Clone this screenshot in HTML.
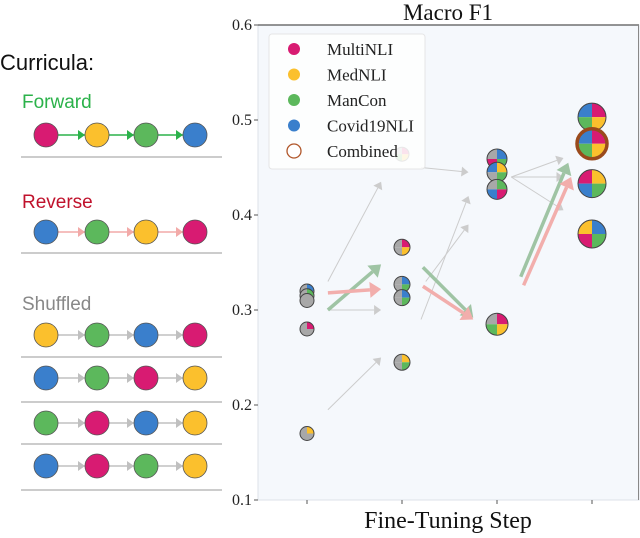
<!DOCTYPE html>
<html><head><meta charset="utf-8"><style>
body{margin:0;background:#fff;width:640px;height:533px;overflow:hidden}
svg text{font-family:"Liberation Serif",serif}
.sans{font-family:"Liberation Sans",sans-serif}
</style></head><body>
<svg id="fig" width="640" height="533" xmlns="http://www.w3.org/2000/svg">
<g id="left">
<text class="sans" x="0" y="70" font-size="22" fill="#111">Curricula:</text>
<text class="sans" x="22" y="108" font-size="19" fill="#2bb24a">Forward</text>
<text class="sans" x="22" y="208" font-size="19" fill="#c0122c">Reverse</text>
<text class="sans" x="22" y="310" font-size="19" fill="#888">Shuffled</text>
</g>
<g id="plot"></g>
</svg>
<script>
const NS="http://www.w3.org/2000/svg";
const COL={M:"#d81b72",Y:"#fbc02d",G:"#5cb85c",B:"#3a7fcc",X:"#a8a8a8"};
// curricula rows
const rowOrders=[["M","Y","G","B"],["B","G","Y","M"],["Y","G","B","M"],["B","G","M","Y"],["G","M","B","Y"],["B","M","G","Y"]];
const rowY=[135,232,335,378,423,466];
const lineY=[157,253,357,402,444,490];
const rowArrow=["#2bb24a","#f2aaa8","#c0c0c0","#c0c0c0","#c0c0c0","#c0c0c0"];
// chart data
const yTicks=[0.1,0.2,0.3,0.4,0.5,0.6];
const pieSteps=[1,1,1,1,1,2,2,2,2,2,3,3,3,3,4,4,4,4];
const pieVals=[0.32,0.315,0.31,0.28,0.17,0.464,0.366,0.327,0.313,0.245,0.459,0.445,0.427,0.285,0.503,0.475,0.433,0.38];
const pieQuads=["XBXX","XGXX","XXXX","XMXX","XYXX","XMYG","XMYX","XBGX","XBGX","XYGX","XBGM","BYGX","XGMB","XMYG","BMYG","BMYG","MYGB","YBGM"];
const pieR=[7,7,7,7,7,7,8,8,8,8,10,10,10,11,14,14,14,14];
const combinedIndex=15;
// arrows: [fromStep, fromVal, toStep, toVal]
const grayArrows=[[1.22,0.33,1.78,0.435],[1.22,0.30,1.78,0.30],[1.22,0.195,1.78,0.25],[2.2,0.29,2.7,0.42],[2.25,0.33,2.7,0.39],[2.2,0.45,2.7,0.445],[3.15,0.44,3.7,0.46],[3.15,0.44,3.7,0.44],[3.15,0.44,3.7,0.405]];
const greenArrows=[[1.22,0.30,1.78,0.348],[2.22,0.345,2.75,0.292],[3.25,0.335,3.75,0.455]];
const pinkArrows=[[1.22,0.318,1.78,0.322],[2.22,0.325,2.75,0.29],[3.28,0.326,3.78,0.44]];

const X0=258,X1=639,Y0=25,Y1=500;
const xs=s=>307+(s-1)*95;
const ys=v=>Y1-(v-0.1)/0.5*(Y1-Y0);
const fig=document.getElementById('fig');
const plot=document.getElementById('plot');
function mk(tag,attrs,parent){const e=document.createElementNS(NS,tag);for(const k in attrs)e.setAttribute(k,attrs[k]);(parent||fig).appendChild(e);return e;}

rowOrders.forEach((ord,ri)=>{
  const g=mk('g',{});
  
  
  const cx=[46,97,146,195];
  for(let i=0;i<3;i++){
    mk('line',{x1:cx[i]+12,y1:rowY[ri],x2:cx[i+1]-12,y2:rowY[ri],stroke:rowArrow[ri],'stroke-width':1.5},g);
    mk('path',{d:`M${cx[i+1]-19},${rowY[ri]-5}L${cx[i+1]-12},${rowY[ri]}L${cx[i+1]-19},${rowY[ri]+5}z`,fill:rowArrow[ri]},g);
  }
  ord.forEach((c,i)=>{
    const cc=mk('circle',{cx:cx[i],cy:rowY[ri],r:12,fill:COL[c],stroke:'#555','stroke-width':0.8},g);
    
    
  });
  const ln=mk('line',{x1:21,y1:lineY[ri],x2:222,y2:lineY[ri],stroke:'#bbb','stroke-width':1.5},g);
  
  
});

const bg=mk('rect',{x:X0,y:Y0,width:X1-X0,height:Y1-Y0,fill:'#f5f8fc',stroke:'#dde2e8'},plot);


mk('line',{x1:X0,y1:Y0,x2:X1,y2:Y0,stroke:'#555','stroke-width':1.2},plot);
mk('line',{x1:X1-0.5,y1:Y0,x2:X1-0.5,y2:Y1,stroke:'#888','stroke-width':1},plot);
yTicks.forEach(v=>{
  mk('line',{x1:X0-4,y1:ys(v),x2:X0,y2:ys(v),stroke:'#555'},plot);
  const t=mk('text',{x:X0-6,y:ys(v)+5,'font-size':16,'text-anchor':'end',fill:'#222'},plot);
  t.textContent=v.toFixed(1);
  
  
});
[1,2,3,4].forEach(s=>mk('line',{x1:xs(s),y1:Y1,x2:xs(s),y2:Y1+4,stroke:'#555'},plot));
const title=mk('text',{x:448,y:20,'font-size':23,'text-anchor':'middle',fill:'#111'},plot);
title.textContent='Macro F1';


const xt=mk('text',{x:448,y:528,'font-size':24,'text-anchor':'middle',fill:'#111'},plot);
xt.textContent='Fine-Tuning Step';



function arrow(a,color,w,head){
  const x1=xs(a[0]),y1=ys(a[1]),x2=xs(a[2]),y2=ys(a[3]);
  const dx=x2-x1,dy=y2-y1,L=Math.hypot(dx,dy),ux=dx/L,uy=dy/L;
  const bx=x2-ux*head*1.4,by=y2-uy*head*1.4;
  const g=mk('g',{},plot);
  
  
  mk('line',{x1,y1,x2:bx,y2:by,stroke:color,'stroke-width':w},g);
  mk('path',{d:`M${x2},${y2}L${bx-uy*head},${by+ux*head}L${bx+uy*head},${by-ux*head}z`,fill:color},g);
}
grayArrows.forEach(a=>arrow(a,'#cccccc',1,5));
greenArrows.forEach(a=>arrow(a,'#9fc4a4',3.5,8));
pinkArrows.forEach(a=>arrow(a,'#f2aeac',3.5,8));

function pie(cx,cy,r,q,parent){
  const g=mk('g',{},parent);
  const ang=[[180,270],[270,360],[0,90],[90,180]];
  q.split('').forEach((c,i)=>{
    const a0=ang[i][0]*Math.PI/180,a1=ang[i][1]*Math.PI/180;
    mk('path',{d:`M${cx},${cy}L${cx+r*Math.cos(a0)},${cy+r*Math.sin(a0)}A${r},${r} 0 0 1 ${cx+r*Math.cos(a1)},${cy+r*Math.sin(a1)}z`,fill:COL[c]},g);
  });
  mk('circle',{cx,cy,r,fill:'none',stroke:'#444','stroke-width':1},g);
  return g;
}
pieVals.forEach((v,i)=>{
  const g=pie(xs(pieSteps[i]),ys(v),pieR[i],pieQuads[i],plot);
  
  
  if(i===combinedIndex) mk('circle',{cx:xs(pieSteps[i]),cy:ys(v),r:pieR[i]+1,fill:'none',stroke:'#9a4a1c','stroke-width':3.5},g);
});

const lg=mk('g',{},plot);


mk('rect',{x:269,y:34,width:156,height:135,rx:3,fill:'#fff',opacity:0.88,stroke:'#e3e3e3'},lg);
const legNames=['MultiNLI','MedNLI','ManCon','Covid19NLI','Combined'];
const legCols=['M','Y','G','B',null];
legNames.forEach((n,i)=>{
  const y=49+i*25.5;
  const e=mk('g',{},lg);
  
  
  if(legCols[i]) mk('circle',{cx:294,cy:y,r:6,fill:COL[legCols[i]]},e);
  else mk('circle',{cx:294,cy:y,r:7,fill:'#fff',stroke:'#b0562a','stroke-width':1.3},e);
  const t=mk('text',{x:327,y:y+6,'font-size':17,fill:'#222'},e);
  t.textContent=n;
});
</script>
</body></html>
